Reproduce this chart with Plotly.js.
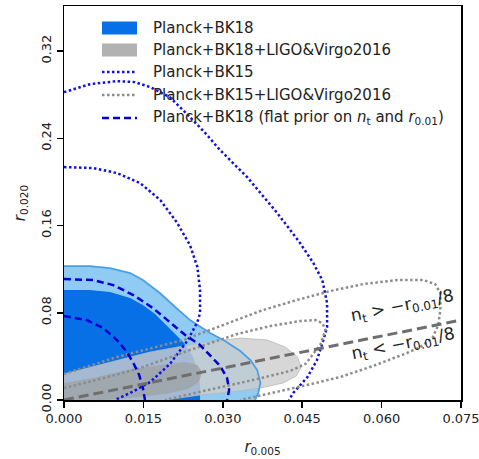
<!DOCTYPE html>
<html>
<head>
<meta charset="utf-8">
<script src="https://cdn.plot.ly/plotly-3.0.1.min.js"></script>
<style>
  html, body { margin: 0; padding: 0; background: #fff; }
  #chart { width: 479px; height: 459px; }
</style>
</head>
<body>
<div id="chart"></div>
<script>
// Planck+BK18, filled credible regions (95% outer, 68% inner)
const bk18OuterX = [0, 0.0049, 0.0087, 0.0125, 0.0149, 0.0181, 0.0210, 0.0238, 0.0276, 0.0301, 0.0333, 0.0352, 0.0365, 0.0371, 0.0367, 0.0361];
const bk18OuterY = [0.1228, 0.1228, 0.1210, 0.1164, 0.1100, 0.0981, 0.0853, 0.0733, 0.0614, 0.0550, 0.0449, 0.0367, 0.0275, 0.0156, 0.0064, 0.0];
const bk18InnerX = [0, 0.0049, 0.0087, 0.0125, 0.0149, 0.0172, 0.0191, 0.0210, 0.0225, 0.0242, 0.0253, 0.0257, 0.0257];
const bk18InnerY = [0.1008, 0.1008, 0.0990, 0.0935, 0.0871, 0.0789, 0.0697, 0.0605, 0.0532, 0.0412, 0.0275, 0.0137, 0];

// Planck+BK18+LIGO&Virgo2016, filled regions
const ligo18OuterX = [0, 0.0068, 0.0163, 0.0257, 0.0333, 0.0384, 0.0418, 0.0441, 0.0448, 0.0439, 0.0414, 0.0371, 0.0314, 0.0257, 0.0219, 0.0191];
const ligo18OuterY = [0.0238, 0.0321, 0.0440, 0.0522, 0.0568, 0.0550, 0.0486, 0.0394, 0.0302, 0.0220, 0.0156, 0.0110, 0.0073, 0.0046, 0.0018, 0];
const ligo18InnerX = [0, 0.0055, 0.0119, 0.0182, 0.0229, 0.0252, 0.0261, 0.0255, 0.0234, 0.0191, 0.0125, 0.0078];
const ligo18InnerY = [0.0156, 0.0202, 0.0275, 0.0321, 0.0348, 0.0321, 0.0257, 0.0165, 0.0101, 0.0055, 0.0018, 0];

// Planck+BK15, contour lines
const bk15OuterX = [0, 0.0049, 0.0100, 0.0134, 0.0163, 0.0200, 0.0238, 0.0267, 0.0295, 0.0346, 0.0403, 0.0446, 0.0471, 0.0488, 0.0497, 0.0497, 0.0490, 0.0478, 0.0460, 0.0433, 0.0425];
const bk15OuterY = [0.2823, 0.2896, 0.2924, 0.2915, 0.2869, 0.2777, 0.2594, 0.2447, 0.2291, 0.2044, 0.1714, 0.1439, 0.1256, 0.1100, 0.0889, 0.0669, 0.0550, 0.0367, 0.0211, 0.0064, 0];
const bk15InnerX = [0, 0.0055, 0.0100, 0.0144, 0.0182, 0.0214, 0.0238, 0.0252, 0.0257, 0.0257, 0.0252, 0.0234, 0.0200, 0.0163, 0.0125, 0.0096];
const bk15InnerY = [0.2136, 0.2127, 0.2081, 0.1989, 0.1833, 0.1622, 0.1420, 0.1219, 0.1008, 0.0797, 0.0715, 0.0550, 0.0330, 0.0165, 0.0064, 0];

// Planck+BK15+LIGO&Virgo2016, contour lines
const ligo15OuterX = [0, 0.0100, 0.0225, 0.0314, 0.0376, 0.0440, 0.0503, 0.0565, 0.0630, 0.0679, 0.0701, 0.0711, 0.0711, 0.0707, 0.0696, 0.0673, 0.0648, 0.0584, 0.0522, 0.0459, 0.0408, 0.0352, 0.0333];
const ligo15OuterY = [0.0238, 0.0394, 0.0550, 0.0715, 0.0825, 0.0917, 0.0999, 0.1063, 0.1100, 0.1100, 0.1063, 0.0981, 0.0825, 0.0687, 0.0568, 0.0486, 0.0431, 0.0312, 0.0211, 0.0137, 0.0082, 0.0027, 0];
const ligo15InnerX = [0, 0.0068, 0.0144, 0.0238, 0.0327, 0.0390, 0.0446, 0.0475, 0.0488, 0.0494, 0.0484, 0.0456, 0.0427, 0.0357, 0.0263, 0.0191];
const ligo15InnerY = [0.0110, 0.0192, 0.0293, 0.0458, 0.0605, 0.0678, 0.0724, 0.0733, 0.0706, 0.0642, 0.0504, 0.0330, 0.0266, 0.0183, 0.0082, 0];

// Planck+BK18 with flat prior on n_t and r_0.01, contour lines
const flatOuterX = [0, 0.0055, 0.0093, 0.0131, 0.0168, 0.0206, 0.0229, 0.0257, 0.0276, 0.0295, 0.0308, 0.0312, 0.0308];
const flatOuterY = [0.1109, 0.1100, 0.1054, 0.0962, 0.0843, 0.0687, 0.0596, 0.0504, 0.0412, 0.0312, 0.0202, 0.0092, 0];
const flatInnerX = [0, 0.0043, 0.0074, 0.0100, 0.0119, 0.0132, 0.0142, 0.0149, 0.0153];
const flatInnerY = [0.0770, 0.0733, 0.0660, 0.0550, 0.0440, 0.0330, 0.0229, 0.0110, 0];

// boundary n_t = -r_0.01/8
const boundaryX = [0, 0.075];
const boundaryY = [0, 0.0733];

// axis ticks
const xTicks = [0, 0.015, 0.030, 0.045, 0.060, 0.075];
const xTickText = ['0.000', '0.015', '0.030', '0.045', '0.060', '0.075'];
const yTicks = [0, 0.08, 0.16, 0.24, 0.32];
const yTickText = ['0.00', '0.08', '0.16', '0.24', '0.32'];

// legend entries
const legendLabels = [
  'Planck+BK18',
  'Planck+BK18+LIGO&amp;Virgo2016',
  'Planck+BK15',
  'Planck+BK15+LIGO&amp;Virgo2016',
  'Planck+BK18 (flat prior on <i>n</i><sub>t</sub> and <i>r</i><sub>0.01</sub>)'
];

const DARK_BLUE = 'rgb(8,112,230)';
const LIGHT_BLUE = 'rgb(143,203,242)';
const EDGE_BLUE = 'rgb(77,159,227)';
const DOT_BLUE = 'rgb(16,16,224)';
const DASH_BLUE = 'rgb(0,0,210)';
const DOT_GRAY = 'rgb(140,140,140)';
const DASH_GRAY = 'rgb(110,110,110)';
const DOT = '2.5px,2.5px';
const DASH = '7px,4px';

// closes a region against the origin corner so it fills down to the axes
function closed(xs, ys) {
  return { x: xs.concat([0]), y: ys.concat([0]) };
}

const traces = [];
const r1 = closed(bk18OuterX, bk18OuterY);
traces.push({ x: r1.x, y: r1.y, mode: 'lines', fill: 'toself', fillcolor: LIGHT_BLUE,
  line: { width: 0 }, hoverinfo: 'skip' });
const r2 = closed(bk18InnerX, bk18InnerY);
traces.push({ x: r2.x, y: r2.y, mode: 'lines', fill: 'toself', fillcolor: DARK_BLUE,
  line: { width: 0 }, hoverinfo: 'skip' });
const r3 = closed(ligo18OuterX, ligo18OuterY);
traces.push({ x: r3.x, y: r3.y, mode: 'lines', fill: 'toself', fillcolor: 'rgba(205,205,205,0.8)',
  line: { width: 1, color: 'rgba(185,185,185,0.8)' }, hoverinfo: 'skip' });
const r4 = closed(ligo18InnerX, ligo18InnerY);
traces.push({ x: r4.x, y: r4.y, mode: 'lines', fill: 'toself', fillcolor: 'rgba(158,160,163,0.75)',
  line: { width: 0 }, hoverinfo: 'skip' });
// edge of the Planck+BK18 95% region
traces.push({ x: bk18OuterX, y: bk18OuterY, mode: 'lines',
  line: { width: 1.8, color: EDGE_BLUE }, hoverinfo: 'skip' });

function lineTrace(xs, ys, color, dash, width) {
  return { x: xs, y: ys, mode: 'lines', line: { color: color, dash: dash, width: width },
    hoverinfo: 'skip' };
}
traces.push(lineTrace(bk15OuterX, bk15OuterY, DOT_BLUE, DOT, 2.5));
traces.push(lineTrace(bk15InnerX, bk15InnerY, DOT_BLUE, DOT, 2.5));
traces.push(lineTrace(ligo15OuterX, ligo15OuterY, DOT_GRAY, DOT, 2.5));
traces.push(lineTrace(ligo15InnerX, ligo15InnerY, DOT_GRAY, DOT, 2.5));
traces.push(lineTrace(flatOuterX, flatOuterY, DASH_BLUE, DASH, 2.5));
traces.push(lineTrace(flatInnerX, flatInnerY, DASH_BLUE, DASH, 2.5));
traces.push(lineTrace(boundaryX, boundaryY, DASH_GRAY, '10px,5px', 3));

// legend drawn in the upper-left of the plotting area (pixel layout helpers)
const M = { l: 64, r: 18, t: 6, b: 59 };
const PW = 479 - M.l - M.r, PH = 459 - M.t - M.b;
const px = p => (p - M.l) / PW;
const py = p => (M.t + PH - p) / PH;

const rowY = [28, 50, 72, 95, 118];
const keyX0 = 102, keyX1 = 137, textX = 151;
const shapes = [
  { type: 'rect', xref: 'paper', yref: 'paper', x0: px(keyX0), x1: px(keyX1),
    y0: py(rowY[0] + 6.5), y1: py(rowY[0] - 6.5), fillcolor: DARK_BLUE, line: { width: 0 } },
  { type: 'rect', xref: 'paper', yref: 'paper', x0: px(keyX0), x1: px(keyX1),
    y0: py(rowY[1] + 6.5), y1: py(rowY[1] - 6.5), fillcolor: 'rgb(178,178,178)', line: { width: 0 } },
  { type: 'line', xref: 'paper', yref: 'paper', x0: px(keyX0), x1: px(keyX1),
    y0: py(rowY[2]), y1: py(rowY[2]), line: { color: DOT_BLUE, width: 2.5, dash: DOT } },
  { type: 'line', xref: 'paper', yref: 'paper', x0: px(keyX0), x1: px(keyX1),
    y0: py(rowY[3]), y1: py(rowY[3]), line: { color: DOT_GRAY, width: 2.5, dash: DOT } },
  { type: 'line', xref: 'paper', yref: 'paper', x0: px(keyX0), x1: px(keyX1),
    y0: py(rowY[4]), y1: py(rowY[4]), line: { color: DASH_BLUE, width: 2.5, dash: DASH } }
];

const FONT = 'DejaVu Sans, sans-serif';
const annotations = legendLabels.map((t, i) => ({
  xref: 'paper', yref: 'paper', x: px(textX), y: py(rowY[i]),
  xanchor: 'left', yanchor: 'middle', showarrow: false, text: t,
  font: { family: FONT, size: 15, color: '#222' }
}));

annotations.push({
  xref: 'x', yref: 'y', x: 0.0640, y: 0.0855, showarrow: false, textangle: -11.4,
  text: 'n<sub>t</sub> &gt; \u2212r<sub>0.01</sub>/8',
  font: { family: FONT, size: 17, color: '#222' }
});
annotations.push({
  xref: 'x', yref: 'y', x: 0.0641, y: 0.0505, showarrow: false, textangle: -11.4,
  text: 'n<sub>t</sub> &lt; \u2212r<sub>0.01</sub>/8',
  font: { family: FONT, size: 17, color: '#222' }
});

const layout = {
  width: 479, height: 459,
  margin: M,
  paper_bgcolor: '#fff', plot_bgcolor: '#fff',
  showlegend: false,
  font: { family: FONT, color: '#222' },
  xaxis: {
    range: [0, 0.075], tickvals: xTicks, ticktext: xTickText,
    ticks: 'outside', ticklen: 6, tickwidth: 1.5, tickcolor: '#000',
    ticklabeloverflow: 'allow',
    showline: true, linecolor: '#000', linewidth: 1.5, mirror: true,
    showgrid: false, zeroline: false,
    tickfont: { family: FONT, size: 13, color: '#222' },
    title: { text: '<i>r</i><sub>0.005</sub>', font: { family: FONT, size: 15, color: '#222' }, standoff: 16 }
  },
  yaxis: {
    range: [0, 0.3613], tickvals: yTicks, ticktext: yTickText, tickangle: -90,
    ticks: 'outside', ticklen: 6, tickwidth: 1.5, tickcolor: '#000',
    ticklabeloverflow: 'allow',
    showline: true, linecolor: '#000', linewidth: 1.5, mirror: true,
    showgrid: false, zeroline: false,
    tickfont: { family: FONT, size: 13, color: '#222' },
    title: { text: '<i>r</i><sub>0.020</sub>', font: { family: FONT, size: 15, color: '#222' }, standoff: 10 }
  },
  shapes: shapes,
  annotations: annotations
};

Plotly.newPlot('chart', traces, layout, { staticPlot: true, displayModeBar: false });
</script>
</body>
</html>
